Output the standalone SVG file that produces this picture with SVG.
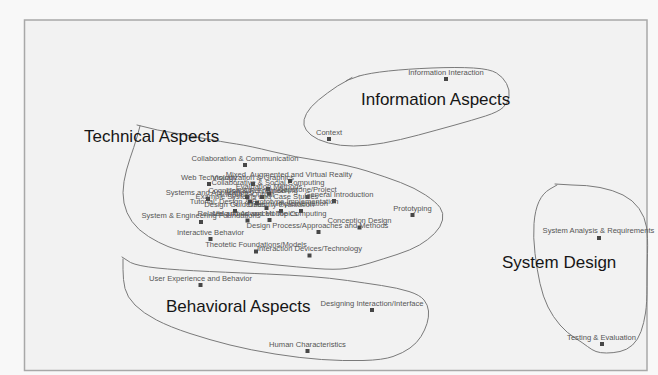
<svg xmlns="http://www.w3.org/2000/svg" width="658" height="375" viewBox="0 0 658 375">
<style>
.lbl{font-family:"Liberation Sans",Arial,sans-serif;font-size:7.6px;fill:#555;text-anchor:middle}
.big{font-family:"Liberation Sans",Arial,sans-serif;font-size:17px;fill:#161616}
.mk{fill:#474747}
.blob{fill:none;stroke:#7a7a7a;stroke-width:1;stroke-linejoin:round;stroke-linecap:round}
</style>
<defs><rect id="m" x="-2" y="-2" width="4" height="4" class="mk"/></defs>
<rect x="0" y="0" width="658" height="375" fill="#f8f8f8"/>
<rect x="24.5" y="20" width="622.5" height="350.5" fill="#f2f2f2" stroke="#a8a8a8" stroke-width="1.5"/>

<g id="clusters">
<path class="blob" d="M346,81 L352,77.5 M359,76 Q370,73 388.5,71 Q407,69 432,68 Q457,67 473.5,68 Q490,69 496.5,73 Q503,77 506.5,83.5 Q510,90 509,96.5 Q508,103 503,107.5 Q498,112 485.5,116 Q473,120 455,125 Q437,130 418.5,135 Q400,140 383.5,143 Q367,146 353.5,146 Q340,146 328.5,143 Q317,140 311,135 Q305,130 304,125 Q303,120 306.5,113.5 Q310,107 318.5,100 Q327,93 337.5,86 Q348,79 359,76"/>
<path class="blob" d="M137,125 L157.5,130 Q175,133 199,137.5 Q223,142 236.5,144 Q250,146 272,151.5 Q294,157 321,161 Q348,165 367,171 Q386,177 400.5,182.5 Q415,188 425.5,195 Q436,202 440,207.5 Q444,213 442.5,220 Q441,227 434.5,233.5 Q428,240 419.5,245 Q411,250 397,254.5 Q383,259 370,263 Q357,267 346,268.5 Q335,270 316,268.5 Q297,267 277,265 Q257,263 233.5,260 Q210,257 193.5,253.5 Q177,250 168,246.5 Q159,243 148.5,236.5 Q138,230 132,221.5 Q126,213 124,203 Q122,193 124,181.5 Q126,170 130,158.5 Q134,147 137,137 L140,126"/>
<path class="blob" d="M122,257 L130.5,262.5 Q138,266 157,268 Q176,270 209.5,271.5 Q243,273 266.5,274 Q290,275 310,276.5 Q330,278 347.5,280.5 Q365,283 381.5,285.5 Q398,288 409,291.5 Q420,295 424,300 Q428,305 428.5,311 Q429,317 427,323.5 Q425,330 421,336.5 Q417,343 410,348 Q403,353 393,356.5 Q383,360 363,360.5 Q343,361 321.5,359.5 Q300,358 275,354 Q250,350 230,345 Q210,340 190,333.5 Q170,327 156.5,320 Q143,313 135,305 Q127,297 125,288.5 Q123,280 123,269.5 L123,259"/>
<path class="blob" d="M555,184 L572,185 Q587,185 600,187.5 Q613,190 623,195 Q633,200 639,208.5 Q645,217 646.5,227 Q648,237 647.5,253.5 Q647,270 647,286.5 Q647,303 645.5,313 Q644,323 641,331.5 Q638,340 632.5,345 Q627,350 620,351.5 Q613,353 606.5,353 Q600,353 596,351.5 Q592,350 587.5,346.5 Q583,343 575,338 Q567,333 560,325 Q553,317 548,307 Q543,297 540,283.5 Q537,270 535,253.5 Q533,237 534,223.5 Q535,210 539,201.5 Q543,193 550,189 L557,185"/>
<text class="big" x="361" y="105">Information Aspects</text>
<text class="big" x="84" y="142">Technical Aspects</text>
<text class="big" x="166" y="312">Behavioral Aspects</text>
<text class="big" x="502" y="268">System Design</text>
</g>

<g id="connectors"></g>

<g id="n1"><use href="#m" x="446" y="79"/><text class="lbl" x="446" y="74.5">Information Interaction</text></g>
<g id="n2"><use href="#m" x="329" y="139"/><text class="lbl" x="329" y="134.5">Context</text></g>
<g id="n3"><use href="#m" x="245" y="165"/><text class="lbl" x="245" y="160.5">Collaboration &amp; Communication</text></g>
<g id="n4"><use href="#m" x="209" y="184"/><text class="lbl" x="209" y="179.5">Web Technology</text></g>
<g id="n5"><use href="#m" x="290" y="181"/><text class="lbl" x="289" y="176.5">Mixed, Augmented and Virtual Reality</text></g>
<g id="n6"><use href="#m" x="253" y="184"/><text class="lbl" x="253" y="179.5">Visualization &amp; Graphics</text></g>
<g id="n7"><use href="#m" x="268" y="189"/><text class="lbl" x="268" y="184.5">Collaborative &amp; Social Computing</text></g>
<g id="n8"><use href="#m" x="208" y="199"/><text class="lbl" x="209" y="194.5">Systems and Applications</text></g>
<g id="n9"><use href="#m" x="307.5" y="197"/><text class="lbl" x="307.5" y="192">Capstone/Project</text></g>
<g id="n10"><use href="#m" x="334" y="201"/><text class="lbl" x="339" y="196.5">General Introduction</text></g>
<g id="n11"><use href="#m" x="257" y="203"/><text class="lbl" x="257" y="198.5">Example Systems and Case Studies</text></g>
<g id="n12"><use href="#m" x="266.5" y="208"/><text class="lbl" x="264" y="204">Tutorial, Design &amp; Prototype Implementation</text></g>
<g id="n13"><use href="#m" x="301" y="211"/><text class="lbl" x="302" y="206">Implementation</text></g>
<g id="n14"><use href="#m" x="281" y="211"/><text class="lbl" x="281" y="206.5">Usability Evaluation</text></g>
<g id="n15"><use href="#m" x="235" y="211"/><text class="lbl" x="235" y="206.5">Design Guidelines</text></g>
<g id="n16"><use href="#m" x="247" y="197"/><text class="lbl" x="247" y="192.5">Cognition &amp; Perception</text></g>
<g id="n17"><use href="#m" x="262" y="197"/><text class="lbl" x="262" y="192.5">Usability Engineering</text></g>
<g id="n18"><use href="#m" x="269" y="193.5"/><text class="lbl" x="269" y="189">Evaluation Methods</text></g>
<g id="n19"><use href="#m" x="250" y="201.5"/><text class="lbl" x="250" y="197">Input &amp; Output</text></g>
<g id="n20"><use href="#m" x="269.5" y="220"/><text class="lbl" x="269.5" y="215.5">Ubiquitous and Mobile Computing</text></g>
<g id="n21"><use href="#m" x="247.5" y="220.5"/><text class="lbl" x="247.5" y="216">Related and Advanced Topics</text></g>
<g id="n22"><use href="#m" x="201" y="222"/><text class="lbl" x="201" y="217.5">System &amp; Engineering Foundations</text></g>
<g id="n23"><use href="#m" x="412.5" y="215"/><text class="lbl" x="412.5" y="210.5">Prototyping</text></g>
<g id="n24"><use href="#m" x="359.5" y="227.5"/><text class="lbl" x="359.5" y="222.5">Conception Design</text></g>
<g id="n25"><use href="#m" x="318.5" y="232"/><text class="lbl" x="317.5" y="227.5">Design Process/Approaches and Methods</text></g>
<g id="n26"><use href="#m" x="210.5" y="239"/><text class="lbl" x="210.5" y="234.5">Interactive Behavior</text></g>
<g id="n27"><use href="#m" x="256" y="251.5"/><text class="lbl" x="256" y="246.5">Theotetic Foundations/Models</text></g>
<g id="n28"><use href="#m" x="309.5" y="255.5"/><text class="lbl" x="309.5" y="251">Interaction Devices/Technology</text></g>
<g id="n29"><use href="#m" x="200.5" y="285"/><text class="lbl" x="200.5" y="280.5">User Experience and Behavior</text></g>
<g id="n30"><use href="#m" x="372" y="310"/><text class="lbl" x="372" y="305.5">Designing Interaction/Interface</text></g>
<g id="n31"><use href="#m" x="307.5" y="351"/><text class="lbl" x="307.5" y="346.5">Human Characteristics</text></g>
<g id="n32"><use href="#m" x="599" y="238"/><text class="lbl" x="598.5" y="233">System Analysis &amp; Requirements</text></g>
<g id="n33"><use href="#m" x="602" y="344"/><text class="lbl" x="601.5" y="339.5">Testing &amp; Evaluation</text></g>
</svg>
